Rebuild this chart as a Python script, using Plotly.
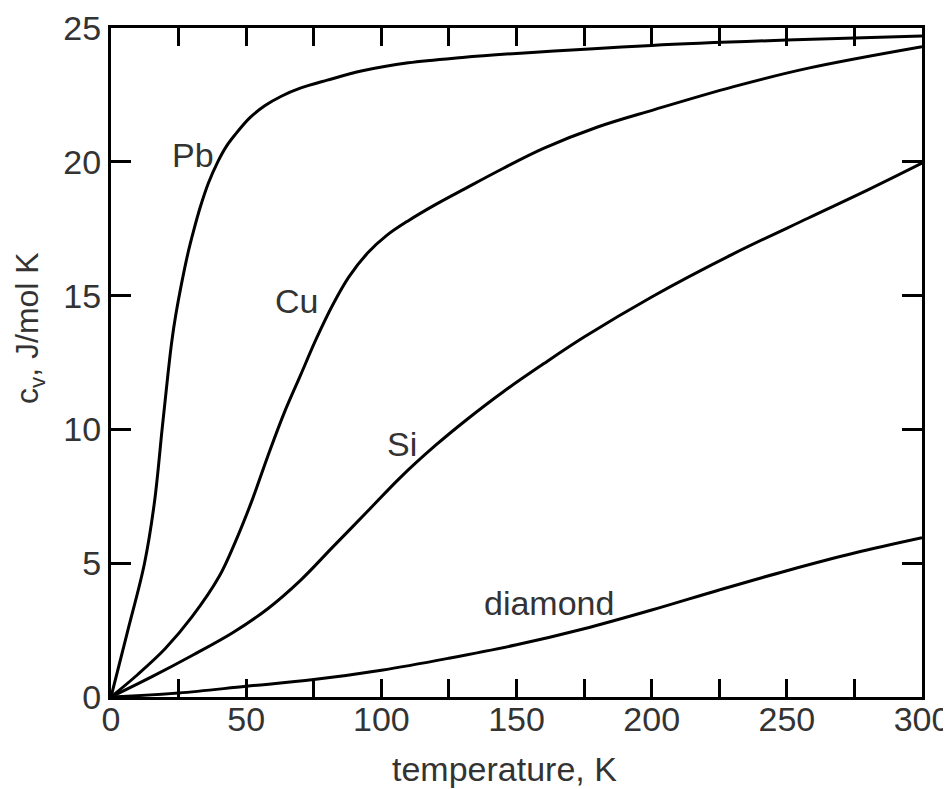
import plotly.graph_objects as go

# Temperature (K) and heat capacity c_v (J/mol K)
pb_T = [0, 6, 12.4, 16.1, 18.9, 21, 22.5, 24, 26, 28.5, 30.5, 33, 36, 39.5, 42.5, 45.8, 51.4, 57, 63, 70, 80, 93, 110, 130, 150, 200, 250, 300]
pb_cv = [0, 2.4, 5.0, 7.3, 10.0, 12.0, 13.3, 14.3, 15.4, 16.6, 17.4, 18.3, 19.2, 20.0, 20.55, 21.0, 21.65, 22.1, 22.45, 22.75, 23.05, 23.4, 23.7, 23.9, 24.05, 24.35, 24.55, 24.7]

cu_T = [0, 10, 20, 30, 40, 46, 52, 58, 64, 70, 76, 82, 88, 95, 102, 110, 120, 131, 145, 160, 180, 201, 230, 258, 300]
cu_cv = [0, 0.85, 1.8, 3.0, 4.5, 5.8, 7.3, 9.0, 10.6, 12.0, 13.4, 14.65, 15.7, 16.6, 17.25, 17.8, 18.4, 19.0, 19.75, 20.5, 21.3, 21.95, 22.8, 23.5, 24.3]

si_T = [0, 15, 30, 45, 58, 70, 82, 95, 107, 120, 132, 145, 160, 175, 200, 230, 258, 280, 300]
si_cv = [0, 0.75, 1.55, 2.4, 3.3, 4.35, 5.6, 6.95, 8.2, 9.4, 10.4, 11.4, 12.45, 13.45, 14.95, 16.55, 17.9, 18.95, 19.95]

dia_T = [0, 25, 50, 75, 100, 125, 150, 175, 200, 225, 250, 275, 300]
dia_cv = [0, 0.15, 0.4, 0.65, 1.0, 1.45, 1.95, 2.55, 3.25, 4.0, 4.72, 5.38, 5.95]

# Curve labels and their positions
label_text = ["Pb", "Cu", "Si", "diamond"]
label_T = [30.3, 68.6, 107.5, 162]
label_cv = [20.25, 14.8, 9.45, 3.5]

x_title = "temperature, K"
y_title = "c<sub>v</sub>, J/mol K"

x_tickvals = [0, 25, 50, 75, 100, 125, 150, 175, 200, 225, 250, 275, 300]
x_ticktext = ["0", "", "50", "", "100", "", "150", "", "200", "", "250", "", "300"]
y_tickvals = [0, 5, 10, 15, 20, 25]
y_ticktext = ["0", "5", "10", "15", "20", "25"]

FONT = "Liberation Sans, Arial, Helvetica, sans-serif"
TXT = "#333333"
FS = 34

fig = go.Figure()
for T, cv in [(pb_T, pb_cv), (cu_T, cu_cv), (si_T, si_cv), (dia_T, dia_cv)]:
    fig.add_trace(go.Scatter(
        x=T, y=cv, mode="lines",
        line=dict(color="black", width=3, shape="spline", smoothing=1.0),
        showlegend=False, hoverinfo="skip", cliponaxis=True,
    ))

for t, x, y in zip(label_text, label_T, label_cv):
    fig.add_annotation(x=x, y=y, text=t, showarrow=False,
                       font=dict(family=FONT, size=FS, color=TXT),
                       xanchor="center", yanchor="middle")

# Axis titles (placed as paper-anchored text to match the original's offsets)
fig.add_annotation(xref="paper", yref="paper", x=0.4858, y=-0.107, text=x_title,
                   showarrow=False, font=dict(family=FONT, size=FS, color=TXT),
                   xanchor="center", yanchor="middle")
fig.add_annotation(xref="paper", yref="paper", x=-0.0999, y=0.5516, text=y_title,
                   showarrow=False, textangle=-90, font=dict(family=FONT, size=32, color=TXT),
                   xanchor="center", yanchor="middle")

axis_common = dict(
    showline=True, linecolor="black", linewidth=3, mirror="ticks",
    ticks="inside", tickcolor="black", tickwidth=2.5,
    showgrid=False, zeroline=False,
    tickfont=dict(family=FONT, size=FS, color=TXT),
)

fig.update_xaxes(
    range=[0, 300], tickmode="array", tickvals=x_tickvals, ticktext=x_ticktext,
    ticklen=18, ticklabelstandoff=-10,
    **axis_common,
)
fig.update_yaxes(
    range=[0, 25], tickmode="array", tickvals=y_tickvals, ticktext=y_ticktext,
    ticklen=20, ticklabelstandoff=0,
    **axis_common,
)

fig.update_layout(
    width=943, height=781,
    margin=dict(l=103, r=29, t=20, b=92, autoexpand=False),
    paper_bgcolor="white", plot_bgcolor="white",
)

fig.write_html("out.html")
